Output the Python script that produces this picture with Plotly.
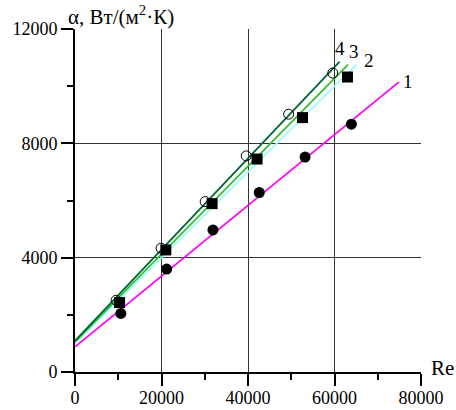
import plotly.graph_objects as go

# Data
re_filled_circles = [10600, 21200, 31900, 42600, 53200, 63900]
alpha_filled_circles = [2050, 3600, 4970, 6280, 7520, 8670]

re_squares = [10300, 21000, 31700, 42100, 52600, 63000]
alpha_squares = [2430, 4270, 5890, 7450, 8900, 10320]

re_open_circles = [9500, 19900, 30100, 39600, 49400, 59600]
alpha_open_circles = [2510, 4330, 5960, 7560, 9020, 10460]

# Fitted lines (endpoints)
line1_x = [0, 74930]
line1_y = [880, 10150]
line2_x = [0, 65050]
line2_y = [1000, 10753]
line3_x = [0, 63130]
line3_y = [1050, 10753]
line4_x = [0, 61190]
line4_y = [1090, 10860]

line_labels = ["1", "2", "3", "4"]
label_x = [77010, 67900, 64590, 61180]
label_y = [10167, 10893, 11220, 11315]

x_ticks = [0, 20000, 40000, 60000, 80000]
y_ticks = [0, 4000, 8000, 12000]

FONT = "'Times New Roman', 'Liberation Serif', 'DejaVu Serif', serif"

fig = go.Figure()

fig.add_trace(go.Scatter(x=line1_x, y=line1_y, mode="lines",
                         line=dict(color="#ff00ff", width=1.8), showlegend=False))
fig.add_trace(go.Scatter(x=line2_x, y=line2_y, mode="lines",
                         line=dict(color="#99ffff", width=1.8), showlegend=False))
fig.add_trace(go.Scatter(x=line3_x, y=line3_y, mode="lines",
                         line=dict(color="#33bb33", width=1.8), showlegend=False))
fig.add_trace(go.Scatter(x=line4_x, y=line4_y, mode="lines",
                         line=dict(color="#006633", width=1.8), showlegend=False))

fig.add_trace(go.Scatter(x=re_filled_circles, y=alpha_filled_circles, mode="markers",
                         marker=dict(symbol="circle", size=11, color="black"),
                         showlegend=False))
fig.add_trace(go.Scatter(x=re_squares, y=alpha_squares, mode="markers",
                         marker=dict(symbol="square", size=11, color="black"),
                         showlegend=False))
fig.add_trace(go.Scatter(x=re_open_circles, y=alpha_open_circles, mode="markers",
                         marker=dict(symbol="circle-open", size=10, color="black",
                                     line=dict(width=1)),
                         showlegend=False))

for t, lx, ly in zip(line_labels, label_x, label_y):
    fig.add_annotation(x=lx, y=ly, text=t, showarrow=False,
                       xanchor="center", yanchor="middle",
                       font=dict(family=FONT, size=19, color="black"))

fig.add_annotation(xref="paper", yref="paper", x=-0.026, y=1.038,
                   text="α, Вт/(м<sup>2</sup>·К)", showarrow=False,
                   xanchor="left", yanchor="middle",
                   font=dict(family=FONT, size=21, color="black"))
fig.add_annotation(xref="paper", yref="paper", x=1.024, y=0.012,
                   text="Re", showarrow=False,
                   xanchor="left", yanchor="middle",
                   font=dict(family=FONT, size=21, color="black"))

axis_common = dict(
    showline=True, linecolor="black", linewidth=2,
    showgrid=True, gridcolor="#333333", gridwidth=1,
    zeroline=False, automargin=False,
    ticks="outside", ticklen=12, tickwidth=2, tickcolor="black",
    tickfont=dict(family=FONT, size=18, color="black"),
    tickformat="d",
)

fig.update_xaxes(range=[0, 80000], tickvals=x_ticks, ticklabelstandoff=-4,
                 minor=dict(dtick=10000, ticks="outside", ticklen=6,
                            tickwidth=2, tickcolor="black", showgrid=False),
                 **axis_common)
fig.update_yaxes(range=[0, 12000], tickvals=y_ticks,
                 minor=dict(dtick=2000, ticks="outside", ticklen=6,
                            tickwidth=2, tickcolor="black", showgrid=False),
                 **axis_common)

fig.update_layout(
    width=456, height=410,
    margin=dict(l=75, r=35, t=29, b=38),
    paper_bgcolor="white", plot_bgcolor="white",
    font=dict(family=FONT, color="black"),
)

fig.write_html("out.html")
